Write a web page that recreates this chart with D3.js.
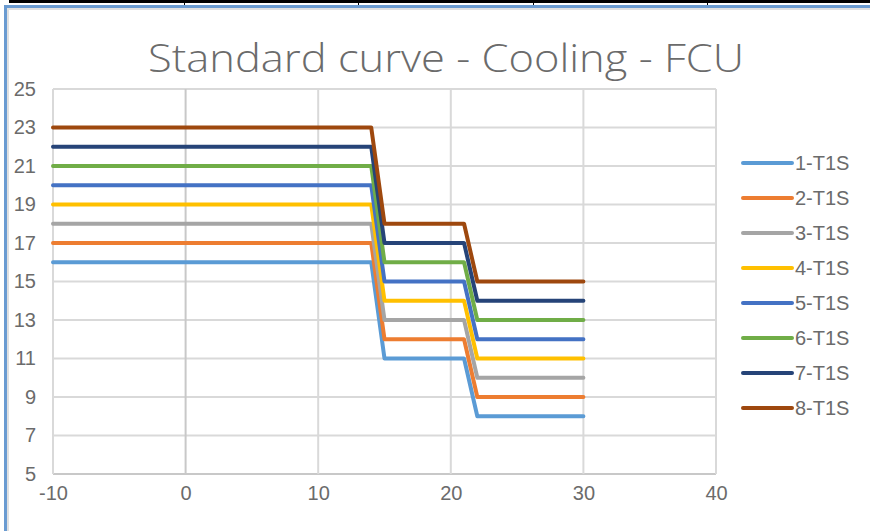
<!DOCTYPE html>
<html>
<head>
<meta charset="utf-8">
<script src="https://cdn.jsdelivr.net/npm/d3@7"></script>
<style>
  html, body { margin: 0; padding: 0; background: #fff; }
  svg { display: block; }
</style>
</head>
<body>
<svg id="chart" width="870" height="531"></svg>
<script>
// ---- data ----
const xValues = [-10, 14, 15, 21, 22, 30];
const seriesNames = ["1-T1S", "2-T1S", "3-T1S", "4-T1S", "5-T1S", "6-T1S", "7-T1S", "8-T1S"];
const s1 = [16, 16, 11, 11, 8, 8];
const s2 = [17, 17, 12, 12, 9, 9];
const s3 = [18, 18, 13, 13, 10, 10];
const s4 = [19, 19, 14, 14, 11, 11];
const s5 = [20, 20, 15, 15, 12, 12];
const s6 = [21, 21, 16, 16, 13, 13];
const s7 = [22, 22, 17, 17, 14, 14];
const s8 = [23, 23, 18, 18, 15, 15];
const seriesValues = [s1, s2, s3, s4, s5, s6, s7, s8];
const xTicks = [-10, 0, 10, 20, 30, 40];
const yTicks = [5, 7, 9, 11, 13, 15, 17, 19, 21, 23, 25];
const titleText = "Standard curve - Cooling - FCU";

const colors = ["#5B9BD5", "#ED7D31", "#A5A5A5", "#FFC000", "#4472C4", "#70AD47", "#264478", "#9E480E"];

const svg = d3.select("#chart");

// ---- frame decorations (spreadsheet context) ----
svg.append("rect").attr("x", 9).attr("y", 0).attr("width", 861).attr("height", 3).attr("fill", "#000");
[184, 358, 533, 707].forEach(x => {
  svg.append("rect").attr("x", x).attr("y", 3).attr("width", 1).attr("height", 2).attr("fill", "#000");
});
svg.append("rect").attr("x", 7).attr("y", 8).attr("width", 863).attr("height", 2).attr("fill", "#E0E0E0");
svg.append("rect").attr("x", 7).attr("y", 8).attr("width", 2).attr("height", 523).attr("fill", "#E0E0E0");
svg.append("rect").attr("x", 4).attr("y", 5).attr("width", 866).attr("height", 3).attr("fill", "#6A9BD1");
svg.append("rect").attr("x", 4).attr("y", 5).attr("width", 3).attr("height", 526).attr("fill", "#6A9BD1");

// ---- scales ----
const x = d3.scaleLinear().domain([-10, 40]).range([53, 716]);
const y = d3.scaleLinear().domain([5, 25]).range([474, 89]);

// ---- gridlines ----
const grid = svg.append("g");
grid.selectAll(".hg").data(yTicks).enter().append("line")
  .attr("x1", x(-10)).attr("x2", x(40))
  .attr("y1", d => y(d)).attr("y2", d => y(d))
  .attr("stroke", d => d === 5 ? "#C8C8C8" : "#D9D9D9")
  .attr("stroke-width", 2);
grid.selectAll(".vg").data(xTicks).enter().append("line")
  .attr("x1", d => x(d)).attr("x2", d => x(d))
  .attr("y1", y(25)).attr("y2", y(5))
  .attr("stroke", d => d === 0 ? "#C8C8C8" : "#D9D9D9")
  .attr("stroke-width", 2);

// ---- axes (labels only) ----
const labelFont = "'Liberation Sans Narrow', 'Liberation Sans', Arial, sans-serif";
const labelColor = "#6B6B6B";
const yAxis = d3.axisLeft(y).tickValues(yTicks).tickSize(0).tickPadding(0).tickFormat(d => String(d));
const yg = svg.append("g").attr("transform", "translate(36,0)").call(yAxis);
yg.select(".domain").remove();
yg.selectAll("text").attr("fill", labelColor).style("font-family", labelFont).style("font-size", "20px");

const xAxis = d3.axisBottom(x).tickValues(xTicks).tickSize(0).tickPadding(0).tickFormat(d => String(d));
const xg = svg.append("g").attr("transform", "translate(0,486)").call(xAxis);
xg.select(".domain").remove();
xg.selectAll("text").attr("fill", labelColor).style("font-family", labelFont).style("font-size", "20px");

// ---- lines ----
const line = d3.line().x((d, i) => x(xValues[i])).y(d => y(d));
svg.append("g").selectAll("path").data(seriesValues).enter().append("path")
  .attr("d", d => line(d))
  .attr("fill", "none")
  .attr("stroke", (d, i) => colors[i])
  .attr("stroke-width", 4)
  .attr("stroke-linejoin", "round")
  .attr("stroke-linecap", "round");

// ---- title ----
svg.append("text")
  .attr("x", 446).attr("y", 72)
  .attr("text-anchor", "middle")
  .attr("fill", "#6B6B6B")
  .style("font-family", "'Open Sans', 'Noto Sans', sans-serif")
  .style("font-weight", "300")
  .style("font-size", "38px")
  .attr("textLength", 596)
  .attr("lengthAdjust", "spacingAndGlyphs")
  .text(titleText);

// ---- legend ----
const legend = svg.append("g");
const legendY = d3.scaleLinear().domain([0, 7]).range([163, 408]);
seriesNames.forEach((name, i) => {
  const g = legend.append("g").attr("transform", `translate(0,${legendY(i)})`);
  g.append("line").attr("x1", 743).attr("x2", 792).attr("y1", 0).attr("y2", 0)
    .attr("stroke", colors[i]).attr("stroke-width", 4).attr("stroke-linecap", "round");
  g.append("text").attr("x", 795).attr("y", 7)
    .attr("fill", labelColor)
    .style("font-family", labelFont).style("font-size", "20px")
    .text(name);
});
</script>
</body>
</html>
